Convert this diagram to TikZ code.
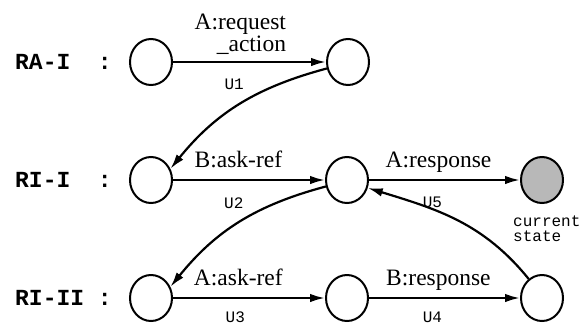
\documentclass[tikz,border=0pt]{standalone}
\usepackage{fontspec}
\setmainfont{Liberation Serif}
\newfontfamily\lmono{Liberation Mono}
\usetikzlibrary{arrows.meta,shapes.geometric}
\begin{document}
\begin{tikzpicture}[x=1pt,y=-1pt,
  state/.style={ellipse, draw, line width=2pt, minimum width=42pt, minimum height=46pt, inner sep=0pt},
  cur/.style={state, fill=black!28},
  trans/.style={line width=2.2pt, -{Latex[length=15pt,width=8.5pt]}},
  lbl/.style={font=\fontsize{23.5}{22}\selectfont, inner sep=0pt},
  ulbl/.style={font=\lmono\fontsize{16}{15}\selectfont, inner sep=0pt},
  rowlbl/.style={font=\lmono\bfseries\fontsize{23}{23}\selectfont, anchor=west, inner sep=0pt}]
\useasboundingbox (0,0) rectangle (584,325);
% states
\node[state] (a1) at (151,62) {};
\node[state] (a2) at (348,62) {};
\node[state] (b1) at (151,180) {};
\node[state] (b2) at (347,180) {};
\node[cur]   (b3) at (542,180) {};
\node[state] (c1) at (151,298) {};
\node[state] (c2) at (347,298) {};
\node[state] (c3) at (542,298) {};
% row labels
\node[rowlbl] (la) at (15,62) {RA-I\ \ :};
\node[rowlbl] (lb) at (15,180) {RI-I\ \ :};
\node[rowlbl] (lc) at (15,298) {RI-II\ :};
\node[ulbl, align=left, anchor=north west] (cs) at (513,216) {current\\state};
% transitions
\draw[trans] (a1) -- node[lbl, pos=0.44, anchor=south, align=right, yshift=6pt] {A:request\\\_action}
  node[ulbl, pos=0.4, yshift=-22pt] {U1} (a2);
\draw[trans] (b1) -- node[lbl, pos=0.43, anchor=base, yshift=13pt] {B:ask-ref}
  node[ulbl, pos=0.4, yshift=-23pt] {U2} (b2);
\draw[trans] (b2) -- node[lbl, pos=0.46, anchor=base, yshift=13pt] {A:response}
  node[ulbl, pos=0.42, yshift=-22pt] {U5} (b3);
\draw[trans] (c1) -- node[lbl, pos=0.43, anchor=base, yshift=13pt] {A:ask-ref}
  node[ulbl, pos=0.41, yshift=-19pt] {U3} (c2);
\draw[trans] (c2) -- node[lbl, pos=0.46, anchor=base, yshift=13pt] {B:response}
  node[ulbl, pos=0.42, yshift=-19pt] {U4} (c3);
% jumps between rows
\draw[trans] (a2.197) to[out=195,in=51] (b1.30);
\draw[trans] (b2.197) to[out=195,in=51] (c1.30);
\draw[trans] (c3.125) to[out=129,in=343] (b2.339);
\end{tikzpicture}
\end{document}
